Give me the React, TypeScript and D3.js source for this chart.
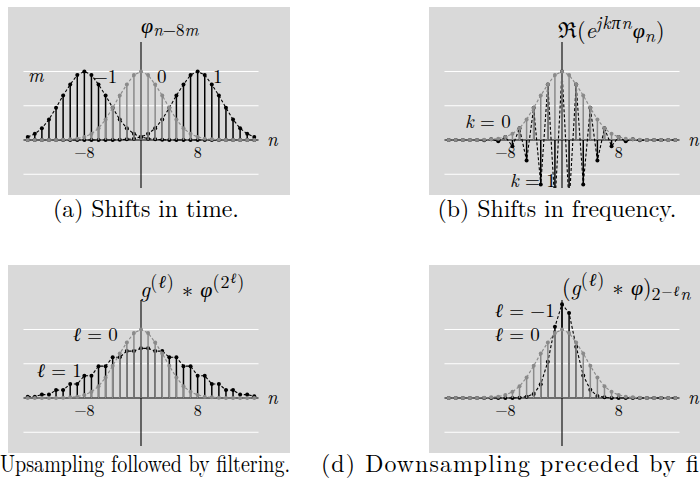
import React from "react";
import * as d3 from "d3";

// Sample index n shared by every panel
const nValues = d3.range(-16, 17);

// φ_n for n = -16..16
const phi = [
  0, 0, 0, 0, 0, 0.005, 0.01, 0.02, 0.045, 0.09, 0.17, 0.3, 0.47, 0.65, 0.81, 0.95,
  1.0,
  0.95, 0.81, 0.65, 0.47, 0.3, 0.17, 0.09, 0.045, 0.02, 0.01, 0.005, 0, 0, 0, 0, 0,
];

// φ_{n+8} (m = -1)
const phiShiftLeft = [
  0.045, 0.09, 0.17, 0.3, 0.47, 0.65, 0.81, 0.95, 1.0, 0.95, 0.81, 0.65, 0.47, 0.3, 0.17, 0.09,
  0.045,
  0.02, 0.01, 0.005, 0, 0, 0, 0, 0, 0, 0, 0, 0, 0, 0, 0, 0,
];

// φ_{n-8} (m = 1)
const phiShiftRight = [
  0, 0, 0, 0, 0, 0, 0, 0, 0, 0, 0, 0, 0, 0.005, 0.01, 0.02,
  0.045,
  0.09, 0.17, 0.3, 0.47, 0.65, 0.81, 0.95, 1.0, 0.95, 0.81, 0.65, 0.47, 0.3, 0.17, 0.09, 0.045,
];

// ℜ(e^{jπn} φ_n) (k = 1)
const phiModulated = [
  0, 0, 0, 0, 0, -0.005, 0.01, -0.02, 0.045, -0.09, 0.17, -0.3, 0.47, -0.65, 0.81, -0.95,
  1.0,
  -0.95, 0.81, -0.65, 0.47, -0.3, 0.17, -0.09, 0.045, -0.02, 0.01, -0.005, 0, 0, 0, 0, 0,
];

// g^(1) * φ^(2) (ℓ = 1)
const upsampledFiltered = [
  0.02, 0.02, 0.05, 0.05, 0.115, 0.115, 0.205, 0.205, 0.325, 0.325, 0.465, 0.465, 0.595, 0.595, 0.685, 0.685,
  0.725,
  0.725, 0.685, 0.685, 0.595, 0.595, 0.465, 0.465, 0.325, 0.325, 0.205, 0.205, 0.115, 0.115, 0.05, 0.05, 0.025,
];

// (g^(-1) * φ)_{2n} (ℓ = -1)
const downsampledFiltered = [
  0, 0, 0, 0, 0, 0, 0, 0, 0, 0, 0.005, 0.02, 0.06, 0.2, 0.53, 1.04,
  1.37,
  1.24, 0.75, 0.33, 0.12, 0.03, 0.01, 0, 0, 0, 0, 0, 0, 0, 0, 0, 0,
];

const gridValues = [1, 0.5, -0.5];
const tickValues = [-8, 8];
const tickLabels = ["−8", "8"];

const SERIF = "Latin Modern Roman, CMU Serif, Liberation Serif, serif";
const BLACK = "#000";
const GRAY = "#8a8a8a";
const BG = "#d9d9d9";

type Series = { values: number[]; color: string };

const UNIT_X = 7.08;
const N_EXTENT = 16.6;
const Y_TOP = 1.43;
const Y_BOTTOM = -0.7;

// math label sizes
const MAIN = 22;
const SCRIPT = 18;
const SSCRIPT = 14;
const SCRIPT_SPACING = 1;

function Panel({
  id,
  dx,
  dy,
  series,
  children,
}: {
  id: string;
  dx: number;
  dy: number;
  series: Series[];
  children?: React.ReactNode;
}) {
  const x = d3
    .scaleLinear()
    .domain([-16, 16])
    .range([dx + 141 - 16 * UNIT_X, dx + 141 + 16 * UNIT_X]);
  const y = d3.scaleLinear().domain([0, 1]).range([dy + 140, dy + 71.5]);
  const line = d3
    .line<number>()
    .x((_, i) => x(nValues[i]))
    .y((v) => y(v));

  return (
    <g>
      <defs>
        <clipPath id={id}>
          <rect x={dx + 8} y={y(Y_TOP)} width={282} height={y(Y_BOTTOM) - y(Y_TOP)} />
        </clipPath>
      </defs>
      <rect x={dx + 8} y={dy + 7} width={282} height={188} fill={BG} />
      {gridValues.map((g) => (
        <line
          key={g}
          x1={x(-N_EXTENT)}
          x2={x(N_EXTENT)}
          y1={y(g)}
          y2={y(g)}
          stroke="#fff"
          strokeWidth={1.2}
        />
      ))}
      <line x1={x(-N_EXTENT)} x2={x(N_EXTENT)} y1={y(0)} y2={y(0)} stroke={BLACK} strokeWidth={1.1} />
      <line x1={x(0)} x2={x(0)} y1={y(Y_TOP)} y2={y(Y_BOTTOM)} stroke={BLACK} strokeWidth={1.1} />
      <g clipPath={`url(#${id})`}>
        {series.map((s, si) => (
          <g key={si}>
            {s.values.map((v, i) => (
              <line
                key={i}
                x1={x(nValues[i])}
                x2={x(nValues[i])}
                y1={y(0)}
                y2={y(v)}
                stroke={s.color}
                strokeWidth={1.5}
              />
            ))}
            <path
              d={line(s.values) ?? ""}
              fill="none"
              stroke={s.color}
              strokeWidth={1.1}
              strokeDasharray="3 2"
            />
            {s.values.map((v, i) => (
              <circle key={i} cx={x(nValues[i])} cy={y(v)} r={2} fill={s.color} />
            ))}
          </g>
        ))}
      </g>
      {tickValues.map((t, i) => (
        <text
          key={t}
          x={x(t)}
          y={dy + 158}
          textAnchor="middle"
          fontFamily={SERIF}
          fontSize={16}
          fill={BLACK}
        >
          {tickLabels[i]}
        </text>
      ))}
      <text x={dx + 267} y={dy + 146} fontFamily={SERIF} fontStyle="italic" fontSize={19} fill={BLACK}>
        n
      </text>
      {children}
    </g>
  );
}

function Label({ x, y, children }: { x: number; y: number; children: React.ReactNode }) {
  return (
    <text x={x} y={y} fontFamily={SERIF} fontSize={19} fill={BLACK}>
      {children}
    </text>
  );
}

const it = { fontStyle: "italic" as const };
const sc = { fontSize: SCRIPT, letterSpacing: SCRIPT_SPACING };
const ssc = { fontSize: SSCRIPT, letterSpacing: SCRIPT_SPACING };

export default function App() {
  const bx = 421;
  const cy = 258;
  return (
    <svg
      width={700}
      height={490}
      viewBox="0 0 700 490"
      style={{ position: "absolute", left: 0, top: 0, background: "#fff" }}
    >
      {/* (a) shifts in time */}
      <Panel
        id="clip-a"
        dx={0}
        dy={0}
        series={[
          { values: phiShiftLeft, color: BLACK },
          { values: phiShiftRight, color: BLACK },
          { values: phi, color: GRAY },
        ]}
      >
        <text x={141} y={33} fontFamily={SERIF} fontSize={MAIN} fill={BLACK}>
          <tspan {...it}>φ</tspan>
          <tspan fontSize={17} dy={3}>
            <tspan {...it}>n</tspan>−8<tspan {...it}>m</tspan>
          </tspan>
        </text>
        <Label x={28} y={82}>
          <tspan {...it}>m</tspan>
        </Label>
        <Label x={93} y={83}>−1</Label>
        <Label x={157} y={83}>0</Label>
        <Label x={213} y={83}>1</Label>
      </Panel>

      {/* (b) shifts in frequency */}
      <Panel
        id="clip-b"
        dx={bx}
        dy={0}
        series={[
          { values: phiModulated, color: BLACK },
          { values: phi, color: GRAY },
        ]}
      >
        <text x={bx + 137} y={38} fontFamily={SERIF} fontSize={MAIN} fill={BLACK}>
          ℜ(<tspan {...it}>e</tspan>
          <tspan {...sc} dy={-9} {...it}>
            jkπn
          </tspan>
          <tspan dy={9} {...it}>
            φ
          </tspan>
          <tspan {...sc} dy={4} {...it}>
            n
          </tspan>
          <tspan dy={-4}>)</tspan>
        </text>
        <Label x={bx + 44} y={128}>
          <tspan {...it}>k</tspan> = 0
        </Label>
        <Label x={bx + 89} y={187}>
          <tspan {...it}>k</tspan> = 1
        </Label>
      </Panel>

      {/* (c) upsampling followed by filtering */}
      <Panel
        id="clip-c"
        dx={0}
        dy={cy}
        series={[
          { values: upsampledFiltered, color: BLACK },
          { values: phi, color: GRAY },
        ]}
      >
        <text x={140} y={cy + 39} fontFamily={SERIF} fontSize={MAIN} fill={BLACK}>
          <tspan {...it}>g</tspan>
          <tspan {...sc} dy={-9}>
            (<tspan {...it}>ℓ</tspan>)
          </tspan>
          <tspan dy={9}> ∗ </tspan>
          <tspan {...it}>φ</tspan>
          <tspan {...sc} dy={-9}>
            (2
          </tspan>
          <tspan {...ssc} dy={-5} {...it}>
            ℓ
          </tspan>
          <tspan {...sc} dy={5}>
            )
          </tspan>
        </text>
        <Label x={73} y={cy + 83}>
          <tspan {...it}>ℓ</tspan> = 0
        </Label>
        <Label x={37} y={cy + 119}>
          <tspan {...it}>ℓ</tspan> = 1
        </Label>
      </Panel>

      {/* (d) downsampling preceded by filtering */}
      <Panel
        id="clip-d"
        dx={bx}
        dy={cy}
        series={[
          { values: downsampledFiltered, color: BLACK },
          { values: phi, color: GRAY },
        ]}
      >
        <text x={bx + 141} y={cy + 37} fontFamily={SERIF} fontSize={MAIN} fill={BLACK}>
          (<tspan {...it}>g</tspan>
          <tspan {...sc} dy={-9}>
            (<tspan {...it}>ℓ</tspan>)
          </tspan>
          <tspan dy={9}> ∗ </tspan>
          <tspan {...it}>φ</tspan>)
          <tspan {...sc} dy={5}>
            2
          </tspan>
          <tspan {...ssc} dy={-4}>
            −<tspan {...it}>ℓ</tspan>
          </tspan>
          <tspan {...sc} dy={4} {...it}>
            n
          </tspan>
        </text>
        <Label x={bx + 74} y={cy + 59}>
          <tspan {...it}>ℓ</tspan> = −1
        </Label>
        <Label x={bx + 74} y={cy + 83}>
          <tspan {...it}>ℓ</tspan> = 0
        </Label>
      </Panel>

      {/* captions */}
      <text x={53} y={217} fontFamily={SERIF} fontSize={23.8} fill={BLACK}>
        (a) Shifts in time.
      </text>
      <text x={437.5} y={217} fontFamily={SERIF} fontSize={23.8} fill={BLACK}>
        (b) Shifts in frequency.
      </text>
      <text
        x={0}
        y={472}
        fontFamily={SERIF}
        fontSize={23.8}
        textLength={290}
        lengthAdjust="spacingAndGlyphs"
        fill={BLACK}
      >
        Upsampling followed by filtering.
      </text>
      <text
        x={321}
        y={472}
        fontFamily={SERIF}
        fontSize={23.8}
        textLength={461}
        lengthAdjust="spacing"
        fill={BLACK}
      >
        (d) Downsampling preceded by filtering.
      </text>
    </svg>
  );
}
